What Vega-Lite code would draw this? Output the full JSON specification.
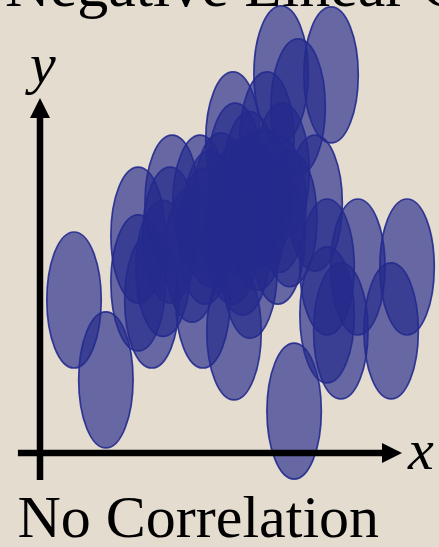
{
  "$schema": "https://vega.github.io/schema/vega-lite/v6.json",
  "width": 362,
  "height": 355,
  "autosize": "none",
  "padding": {"left": 40, "top": 98, "right": 37, "bottom": 94},
  "background": "#e3dccf",
  "config": {"view": {"stroke": null}},
  "encoding": {
    "x": {
      "field": "x",
      "type": "quantitative",
      "scale": {"domain": [0, 10], "nice": false, "zero": false},
      "axis": {
        "domain": false,
        "ticks": false,
        "labels": false,
        "grid": false,
        "title": "No Correlation",
        "titleFont": "Liberation Serif",
        "titleFontSize": 60,
        "titleFontWeight": "normal",
        "titleColor": "#000000",
        "titleAnchor": "start",
        "titleAlign": "left",
        "titleBaseline": "alphabetic",
        "titleX": -23,
        "titleY": 83,
        "titleLimit": 1000
      }
    },
    "y": {
      "field": "y",
      "type": "quantitative",
      "scale": {"domain": [0, 10], "nice": false, "zero": false},
      "axis": null
    }
  },
  "layer": [
    {
      "data": {
        "values": [
          {"x": 0.94, "y": 4.31},
          {"x": 1.82, "y": 2.06},
          {"x": 6.66, "y": 10.68},
          {"x": 8.04, "y": 10.65},
          {"x": 7.13, "y": 9.75},
          {"x": 5.33, "y": 8.82},
          {"x": 6.27, "y": 8.82},
          {"x": 5.39, "y": 7.94},
          {"x": 6.69, "y": 7.94},
          {"x": 3.65, "y": 7.04},
          {"x": 4.42, "y": 7.04},
          {"x": 5.8, "y": 7.04},
          {"x": 7.6, "y": 7.04},
          {"x": 2.71, "y": 6.14},
          {"x": 3.59, "y": 6.14},
          {"x": 4.56, "y": 6.11},
          {"x": 5.3, "y": 6.11},
          {"x": 6.57, "y": 6.11},
          {"x": 2.71, "y": 4.79},
          {"x": 3.09, "y": 4.31},
          {"x": 4.5, "y": 4.31},
          {"x": 5.8, "y": 5.15},
          {"x": 5.36, "y": 3.41},
          {"x": 7.93, "y": 5.24},
          {"x": 8.78, "y": 5.24},
          {"x": 10.14, "y": 5.24},
          {"x": 7.93, "y": 3.89},
          {"x": 8.31, "y": 3.44},
          {"x": 9.7, "y": 3.44},
          {"x": 7.02, "y": 1.18},
          {"x": 5.8, "y": 7.7},
          {"x": 6.2, "y": 7.2},
          {"x": 5.5, "y": 6.9},
          {"x": 6.0, "y": 6.5},
          {"x": 5.0, "y": 7.1},
          {"x": 6.6, "y": 7.0},
          {"x": 5.6, "y": 5.8},
          {"x": 4.7, "y": 6.6},
          {"x": 6.9, "y": 6.6},
          {"x": 4.2, "y": 5.6},
          {"x": 3.4, "y": 5.2}
        ]
      },
      "mark": {
        "type": "point",
        "shape": "M0,-1 C0.221,-1 0.4,-0.552 0.4,0 C0.4,0.552 0.221,1 0,1 C-0.221,1 -0.4,0.552 -0.4,0 C-0.4,-0.552 -0.221,-1 0,-1 Z",
        "size": 18496,
        "filled": true,
        "opacity": 1,
        "fill": "#252a8c",
        "fillOpacity": 0.66,
        "stroke": "#232a8e",
        "strokeWidth": 1.7,
        "strokeOpacity": 0.9
      }
    },
    {
      "data": {
        "values": [
          {"x": -0.61, "y": 0, "x2": 9.5, "y2": 0},
          {"x": 0, "y": -0.76, "x2": 0, "y2": 9.5}
        ]
      },
      "mark": {"type": "rule", "color": "#000000", "strokeWidth": 6.5},
      "encoding": {
        "x2": {"field": "x2"},
        "y2": {"field": "y2"}
      }
    },
    {
      "data": {
        "values": [
          {"x": 0, "y": 10, "dir": "up"},
          {"x": 10, "y": 0, "dir": "right"}
        ]
      },
      "mark": {
        "type": "point",
        "filled": true,
        "opacity": 1,
        "size": 1600,
        "fill": "#000000",
        "strokeWidth": 0
      },
      "encoding": {
        "shape": {
          "field": "dir",
          "type": "nominal",
          "scale": {
            "domain": ["up", "right"],
            "range": ["M0,0 L0.5,1 L-0.5,1 Z", "M0,0 L-1,-0.5 L-1,0.5 Z"]
          },
          "legend": null
        }
      }
    },
    {
      "data": {
        "values": [
          {"x": 10.52, "y": -0.45, "label": "x"},
          {"x": 0.08, "y": 10.42, "label": "y"}
        ]
      },
      "mark": {
        "type": "text",
        "font": "Liberation Serif",
        "fontStyle": "italic",
        "fontSize": 58,
        "color": "#000000",
        "align": "center",
        "baseline": "alphabetic"
      },
      "encoding": {
        "text": {"field": "label"}
      }
    },
    {
      "data": {
        "values": [
          {"x": -0.97, "y": 12.58, "label": "Negative Linear Correlation"}
        ]
      },
      "mark": {
        "type": "text",
        "font": "Liberation Serif",
        "fontSize": 62,
        "color": "#000000",
        "align": "left",
        "baseline": "alphabetic",
        "limit": 1000
      },
      "encoding": {
        "text": {"field": "label"}
      }
    }
  ]
}
